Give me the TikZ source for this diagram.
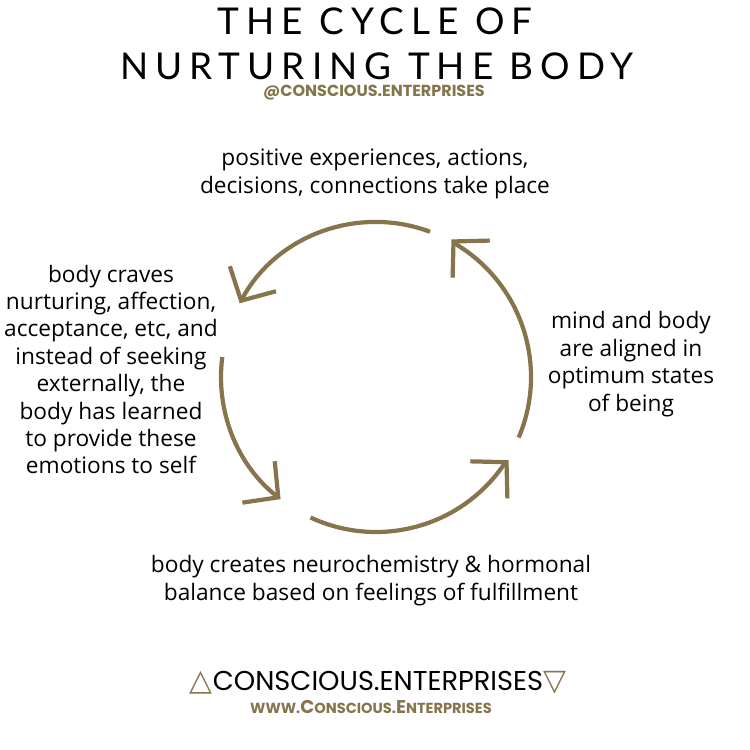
\documentclass[tikz,border=0pt]{standalone}
\usepackage{fontspec}
\setmainfont{Open Sans}
\newfontfamily\titlefont{Lato}[LetterSpace=19]
\newfontfamily\brandfont{Poppins}
\newfontfamily\symbfont{DejaVu Sans}
\usetikzlibrary{arrows.meta,calc}
\definecolor{cyclebrown}{RGB}{134,117,76}

\begin{document}
\begin{tikzpicture}[scale=1,
  cyc/.style={cyclebrown,line width=2.4pt,-{Straight Barb[length=5mm,width=10.5mm]}},
  lbl/.style={align=center,font=\fontsize{12.9}{15.6}\selectfont},
  ttl/.style={inner sep=0pt,text depth=0pt,font=\titlefont\fontsize{21}{25}\selectfont}]
\useasboundingbox (0,0) rectangle (15,15);
\coordinate (O) at (7.52,7.46);
\node[ttl] (T1) at (7.5,14.58) {THE CYCLE OF};
\node[ttl] (T2) at (7.54,13.67) {NURTURING THE BODY};
\node[cyclebrown,inner sep=0pt] (H) at (7.48,13.15) {\brandfont\bfseries\fontsize{9.1}{10}\selectfont @CONSCIOUS.ENTERPRISES};
\node[lbl] (top) at (7.5,11.52) {positive experiences, actions,\\decisions, connections take place};
\node[lbl] (left) at (2.22,7.61) {body craves\\nurturing, affection,\\acceptance, etc, and\\instead of seeking\\externally, the\\body has learned\\to provide these\\emotions to self};
\node[lbl] (right) at (12.62,7.72) {mind and body\\are aligned in\\optimum states\\of being};
\node[lbl] (bottom) at (7.42,3.39) {body creates neurochemistry \& hormonal\\balance based on feelings of fulfillment};
\coordinate (s1) at ($(O)+(69.6:3.1)$); \coordinate (s2) at ($(O)+(172.6:3.1)$);
\coordinate (s3) at ($(O)+(245:3.1)$); \coordinate (s4) at ($(O)+(337:3.1)$);
\draw[cyc] (s1) arc[start angle=69.6,end angle=151.6,radius=3.1];
\draw[cyc] (s2) arc[start angle=172.6,end angle=232,radius=3.1];
\draw[cyc] (s3) arc[start angle=245,end angle=325.2,radius=3.1] -- ++(45:0.15);
\draw[cyc] (s4) arc[start angle=-23,end angle=58.6,radius=3.1] -- ++(135:0.15);
\node (F1) at (7.56,1.34) {\textcolor{cyclebrown}{\symbfont\fontsize{17}{18}\selectfont △}\brandfont\fontsize{15.5}{17}\selectfont CONSCIOUS.ENTERPRISES\textcolor{cyclebrown}{\symbfont\fontsize{17}{18}\selectfont ▽}};
\node[cyclebrown] (F2) at (7.42,0.86) {\brandfont\bfseries\fontsize{8.3}{9}\selectfont WWW.{\fontsize{10.5}{9}\selectfont C}ONSCIOUS.{\fontsize{10.5}{9}\selectfont E}NTERPRISES};
\end{tikzpicture}
\end{document}
